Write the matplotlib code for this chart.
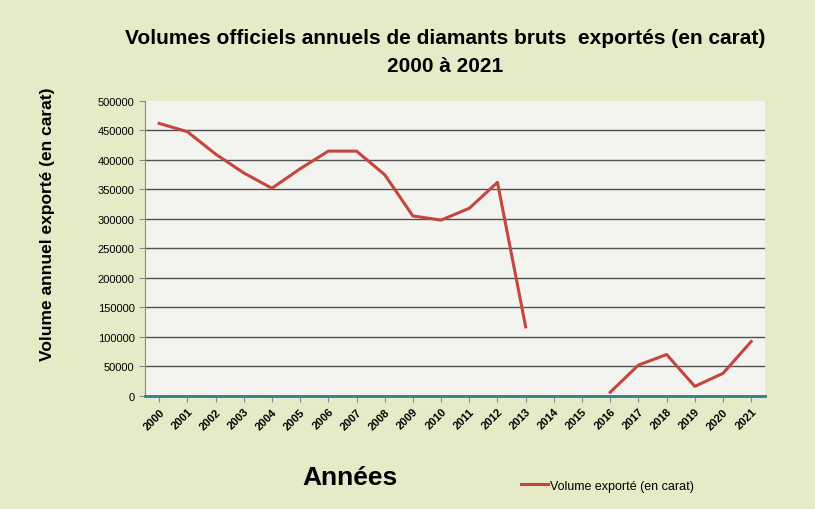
import numpy as np
import matplotlib
matplotlib.use("Agg")
import matplotlib.pyplot as plt

plt.rcParams["font.family"] = ["Liberation Sans", "DejaVu Sans"]

# Années et volumes exportés
annees = [str(a) for a in range(2000, 2022)]
volumes = [462000, 448000, 410000, 378000, 352000, 385000, 415000, 415000,
           375000, 305000, 298000, 318000, 362000, 117000, np.nan, np.nan,
           6000, 52000, 70000, 16000, 38000, 92000]
y_ticks = list(range(0, 500001, 50000))

fig = plt.figure(figsize=(8.15, 5.10), dpi=100)
fig.patch.set_facecolor("#e6eac6")
ax = fig.add_axes([0.178, 0.222, 0.761, 0.578])
ax.set_facecolor("#f3f3ef")

x = np.arange(len(annees))
ax.plot(x, volumes, color="#c4463c", linewidth=2.2, label="Volume exporté (en carat)")

ax.set_xlim(-0.5, len(annees) - 0.5)
ax.set_ylim(0, 500000)
ax.set_yticks(y_ticks)
ax.set_yticklabels([str(v) for v in y_ticks], fontsize=8)
ax.set_xticks(x)
ax.set_xticklabels(annees, rotation=45, ha="right", rotation_mode="anchor",
                   fontsize=8, fontweight="bold")
ax.grid(axis="y", color="#505050", linewidth=1.0)
ax.yaxis.get_gridlines()[-1].set_visible(False)
ax.set_axisbelow(True)
for s in ["top", "right"]:
    ax.spines[s].set_visible(False)
ax.spines["left"].set_color("#888888")
ax.spines["bottom"].set_color("#2f7f8c")
ax.spines["bottom"].set_linewidth(2)
ax.tick_params(axis="both", length=4, color="#888888")

fig.text(0.058, 0.56, "Volume annuel exporté (en carat)", rotation=90,
         ha="center", va="center", fontsize=12.5, fontweight="bold")
fig.text(0.546, 0.925, "Volumes officiels annuels de diamants bruts  exportés (en carat)",
         ha="center", va="center", fontsize=15, fontweight="bold")
fig.text(0.546, 0.869, "2000 à 2021", ha="center", va="center", fontsize=15, fontweight="bold")
fig.text(0.43, 0.062, "Années", ha="center", va="center", fontsize=19, fontweight="bold")

ax.legend(loc="center", bbox_to_anchor=(0.745, -0.305), frameon=False, fontsize=9,
          handlelength=2.2, handletextpad=0.1)

fig.savefig("out.png", dpi=100, facecolor=fig.get_facecolor())
